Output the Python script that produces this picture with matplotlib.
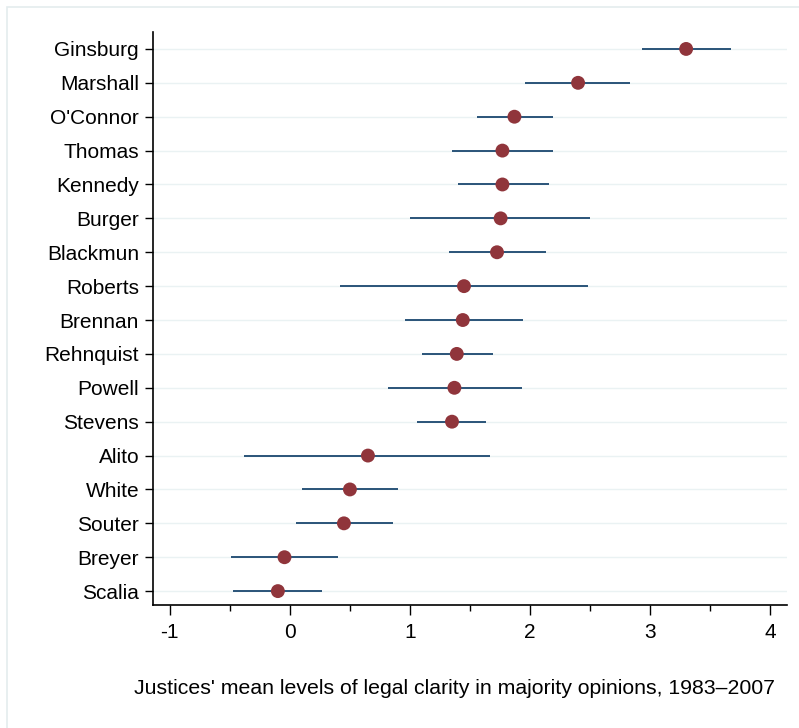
import matplotlib
matplotlib.use("Agg")
import matplotlib.pyplot as plt
from matplotlib.patches import Rectangle
from matplotlib.ticker import MultipleLocator

justices = ["Ginsburg", "Marshall", "O'Connor", "Thomas", "Kennedy", "Burger",
            "Blackmun", "Roberts", "Brennan", "Rehnquist", "Powell", "Stevens",
            "Alito", "White", "Souter", "Breyer", "Scalia"]
means = [3.30, 2.40, 1.87, 1.77, 1.77, 1.755, 1.725, 1.45, 1.44, 1.39, 1.37,
         1.35, 0.65, 0.50, 0.45, -0.045, -0.10]
ci_low = [2.93, 1.96, 1.56, 1.35, 1.40, 1.00, 1.325, 0.42, 0.96, 1.10, 0.82,
          1.06, -0.38, 0.10, 0.05, -0.49, -0.475]
ci_high = [3.675, 2.83, 2.19, 2.19, 2.16, 2.50, 2.13, 2.48, 1.94, 1.69, 1.93,
           1.63, 1.67, 0.90, 0.86, 0.40, 0.27]
xticks = [-1, 0, 1, 2, 3, 4]
xlabel = "Justices' mean levels of legal clarity in majority opinions, 1983\u20132007"

plt.rcParams['font.family'] = ['Liberation Sans', 'DejaVu Sans']

fig = plt.figure(figsize=(7.99, 7.28), dpi=100)
fig.patches.append(Rectangle((7/799, -0.05), 1.1, 1.05 - 7/728 + 0.0,
                             transform=fig.transFigure, fill=False,
                             edgecolor="#e4ecee", linewidth=1.2, clip_on=False))
ax = fig.add_axes([153/799, 1 - 605/728, (787 - 153)/799, (605 - 32)/728])

n = len(justices)
ypos = list(range(n, 0, -1))

for y in ypos:
    ax.axhline(y, color="#eaf2f3", linewidth=1.0, zorder=0)

ax.hlines(ypos, ci_low, ci_high, color="#1a476f", linewidth=1.3, zorder=2)
ax.scatter(means, ypos, s=100, color="#90353b", zorder=3, edgecolors="none")

ax.set_xlim(-1.14, 4.14)
ax.set_ylim(0.59, n + 0.5)
ax.set_yticks(ypos)
ax.set_yticklabels(justices, fontsize=15)
ax.set_xticks(xticks)
ax.set_xticklabels([str(t) for t in xticks], fontsize=15)
ax.xaxis.set_minor_locator(MultipleLocator(0.5))
ax.tick_params(axis='y', length=6, width=1, pad=4)
ax.tick_params(axis='x', which='major', length=7, width=1, pad=6)
ax.tick_params(axis='x', which='minor', length=4, width=1)
for s in ["top", "right"]:
    ax.spines[s].set_visible(False)
for s in ["left", "bottom"]:
    ax.spines[s].set_linewidth(1.2)
ax.set_xlabel(xlabel, fontsize=15.3)
ax.xaxis.set_label_coords((454 - 153) / 634, -(688 - 605) / 573, transform=ax.transAxes)
ax.xaxis.label.set_verticalalignment("center")

fig.savefig("out.png", dpi=100)
